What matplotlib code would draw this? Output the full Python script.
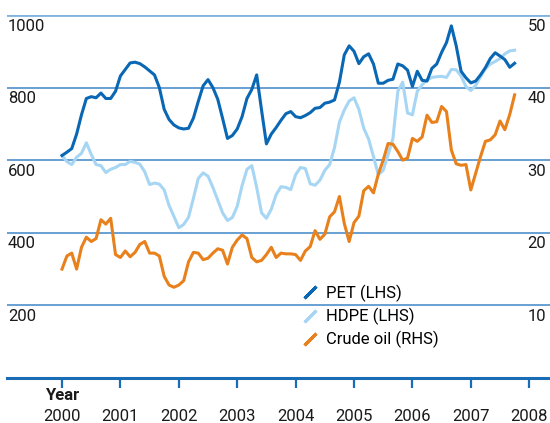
import matplotlib.pyplot as plt
import matplotlib.transforms as mtransforms
from matplotlib.lines import Line2D
import numpy as np

plt.rcParams['font.family'] = ['Roboto', 'DejaVu Sans']

# monthly, Jan 2000 - Oct 2007
pet = [613, 622, 632, 672, 725, 770, 775, 772, 785, 770, 770, 790,
       832, 850, 868, 870, 866, 857, 846, 835, 800, 740, 712, 697,
       689, 686, 688, 716, 762, 805, 822, 800, 768, 715, 660, 668,
       686, 720, 770, 795, 835, 738, 645, 672, 690, 710, 728, 734,
       720, 717, 723, 731, 743, 745, 757, 760, 766, 815, 890, 915,
       900, 866, 885, 893, 865, 812, 812, 820, 823, 865, 860, 848,
       803, 845, 820, 818, 853, 865, 897, 924, 970, 915, 845, 827,
       813, 818, 835, 855, 880, 896, 887, 877, 856, 867]
hdpe = [613, 596, 588, 608, 619, 648, 616, 588, 585, 566, 575, 580,
        588, 588, 597, 594, 589, 568, 533, 537, 534, 518, 475, 445,
        414, 423, 443, 495, 550, 565, 556, 525, 490, 455, 434, 442,
        473, 530, 575, 585, 525, 455, 440, 465, 505, 527, 525, 519,
        560, 580, 577, 535, 531, 545, 572, 588, 635, 705, 738, 763,
        772, 740, 688, 658, 610, 560, 572, 615, 660, 790, 815, 730,
        725, 790, 808, 821, 828, 830, 831, 828, 850, 849, 832, 803,
        792, 806, 830, 852, 865, 872, 880, 893, 901, 903]
crude = [15.0, 16.8, 17.2, 15.0, 18.0, 19.4, 18.8, 19.2, 21.8, 21.2, 22.0, 17.0,
         16.6, 17.5, 16.7, 17.3, 18.4, 18.8, 17.2, 17.2, 16.8, 14.0, 12.8, 12.5,
         12.8, 13.4, 16.0, 17.3, 17.2, 16.3, 16.5, 17.2, 17.8, 17.6, 15.7, 18.0,
         19.0, 19.7, 19.2, 16.6, 16.0, 16.2, 17.0, 18.0, 16.6, 17.2, 17.1, 17.1,
         17.0, 16.2, 17.5, 18.1, 20.3, 19.1, 19.8, 22.2, 22.9, 25.0, 21.3, 18.8,
         21.4, 22.3, 25.8, 26.4, 25.5, 28.1, 30.0, 32.3, 32.2, 31.2, 30.0, 30.3,
         33.0, 32.6, 33.2, 36.2, 35.2, 35.3, 37.4, 36.7, 31.4, 29.5, 29.3, 29.4,
         25.9, 28.2, 30.5, 32.6, 32.8, 33.5, 35.4, 34.2, 36.3, 39.0]
dates = 2000 + np.arange(len(pet)) / 12

years = list(range(2000, 2009))
left_ticks = [200, 400, 600, 800, 1000]
right_ticks = [10, 20, 30, 40, 50]

c_pet = '#0a67b3'
c_hdpe = '#a6d6f4'
c_oil = '#e8801c'
c_grid = '#3f86c6'

fig = plt.figure(figsize=(5.5, 4.23), dpi=100)
ax = fig.add_axes([7/550, 1 - 378/423, 543/550, 363/423])
ax2 = ax.twinx()

ax.set_xlim(1999.058, 2008.356)
ax.set_ylim(0, 1000)
ax2.set_ylim(0, 50)

for v in left_ticks:
    if v == 1000:
        ax.axhline(v, color='#7fb3de', lw=2, zorder=1)
    else:
        ax.axhline(v, color=c_grid, lw=1.1, zorder=1)

ax.plot(dates, hdpe, color=c_hdpe, lw=2.2, zorder=3)
ax.plot(dates, pet, color=c_pet, lw=2.2, zorder=4)
ax2.plot(dates, crude, color=c_oil, lw=2.2, zorder=3)

for a in (ax, ax2):
    for s in ['top', 'left', 'right']:
        a.spines[s].set_visible(False)
    a.set_yticks([])
ax.spines['bottom'].set_color('#1a6db5')
ax.spines['bottom'].set_linewidth(2.2)
ax2.spines['bottom'].set_visible(False)

ax.set_xticks(years)
ax.set_xticklabels([str(y) for y in years], fontsize=12, color='#1a1a1a')
ax.tick_params(axis='x', direction='out', length=7, width=1.6, color='#1a6db5', pad=15)

bl = mtransforms.blended_transform_factory(ax.transAxes, ax.transData)
for v in left_ticks:
    ax.text(0.002, v - 10, str(v), transform=bl, ha='left', va='top',
            fontsize=12, color='#1a1a1a')
bl2 = mtransforms.blended_transform_factory(ax2.transAxes, ax2.transData)
for v in right_ticks:
    ax2.text(0.993, v - 0.5, str(v), transform=bl2, ha='right', va='top',
             fontsize=12, color='#1a1a1a')

bx = mtransforms.blended_transform_factory(ax.transData, ax.transAxes)
ax.text(2000, -0.027, 'Year', transform=bx, ha='center', va='top',
        fontsize=12, fontweight='bold', color='#1a1a1a')

handles = [Line2D([], [], linestyle='none', marker=(2, 2, -45), markersize=12,
                  markeredgewidth=2.2, color=c) for c in (c_pet, c_hdpe, c_oil)]
ax2.legend(handles, ['PET (LHS)', 'HDPE (LHS)', 'Crude oil (RHS)'],
           loc='upper left', bbox_to_anchor=(0.53, 0.275), frameon=False,
           fontsize=12, handlelength=1.0, handletextpad=0.5, labelspacing=0.35,
           borderaxespad=0)

fig.savefig('out.png', dpi=100)
